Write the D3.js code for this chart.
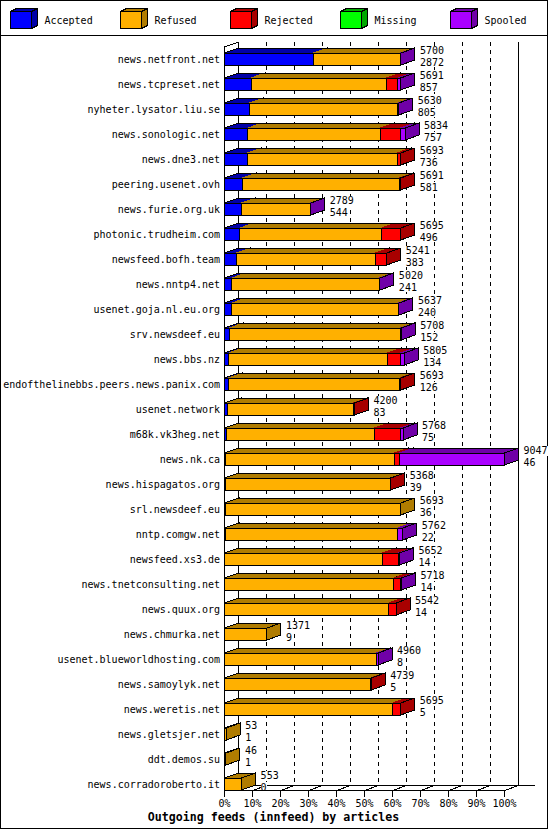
<!DOCTYPE html>
<html>
<head>
<meta charset="utf-8">
<script src="https://cdn.jsdelivr.net/npm/d3@7"></script>
<style>
  body { margin: 0; background: #fff; }
</style>
</head>
<body>
<div id="chart"></div>
<script>
// outgoing innfeed peers, top to bottom
const feeds = [
  "news.netfront.net", "news.tcpreset.net", "nyheter.lysator.liu.se",
  "news.sonologic.net", "news.dne3.net", "peering.usenet.ovh",
  "news.furie.org.uk", "photonic.trudheim.com", "newsfeed.bofh.team",
  "news.nntp4.net", "usenet.goja.nl.eu.org", "srv.newsdeef.eu",
  "news.bbs.nz", "endofthelinebbs.peers.news.panix.com", "usenet.network",
  "m68k.vk3heg.net", "news.nk.ca", "news.hispagatos.org",
  "srl.newsdeef.eu", "nntp.comgw.net", "newsfeed.xs3.de",
  "news.tnetconsulting.net", "news.quux.org", "news.chmurka.net",
  "usenet.blueworldhosting.com", "news.samoylyk.net", "news.weretis.net",
  "news.gletsjer.net", "ddt.demos.su", "news.corradoroberto.it"
];
const offered = [5700, 5691, 5630, 5834, 5693, 5691, 2789, 5695, 5241, 5020,
  5637, 5708, 5805, 5693, 4200, 5768, 9047, 5368, 5693, 5762,
  5652, 5718, 5542, 1371, 4960, 4739, 5695, 53, 46, 553];
const accepted = [2872, 857, 805, 757, 736, 581, 544, 496, 383, 241,
  240, 152, 134, 126, 83, 75, 46, 39, 36, 22,
  14, 14, 14, 9, 8, 5, 5, 1, 1, 0];
const refused = [2808, 4371, 4790, 4277, 4838, 5067, 2235, 4583, 4490, 4754,
  5366, 5536, 5127, 5534, 4079, 4765, 5441, 5319, 5657, 5574,
  5085, 5457, 5295, 1362, 4900, 4720, 5429, 52, 45, 553];
const rejected = [0, 370, 5, 646, 119, 43, 0, 616, 368, 0,
  0, 0, 419, 33, 38, 840, 161, 10, 0, 0,
  517, 209, 233, 0, 2, 14, 261, 0, 0, 0];
const missing = [0, 0, 0, 0, 0, 0, 0, 0, 0, 0,
  0, 0, 0, 0, 0, 0, 0, 0, 0, 0,
  0, 0, 0, 0, 0, 0, 0, 0, 0, 0];
const spooled = [20, 93, 30, 154, 0, 0, 10, 0, 0, 25,
  31, 20, 125, 0, 0, 88, 3399, 0, 0, 166,
  36, 38, 0, 0, 50, 0, 0, 0, 0, 0];

const seriesNames = ["Accepted", "Refused", "Rejected", "Missing", "Spooled"];
const pctTicks = [0, 10, 20, 30, 40, 50, 60, 70, 80, 90, 100];

const series = [accepted, refused, rejected, missing, spooled];
const frontColors = ["#0000ff", "#ffb000", "#ff0000", "#00ff00", "#aa00ff"];
const darkColors = ["#0000a8", "#b07c00", "#a80000", "#00a800", "#7000a8"];

const width = 550;
const height = 830;
const depth = { x: 14, y: 5 };
const mono = "'DejaVu Sans Mono', 'Liberation Mono', monospace";

const svg = d3.select("#chart")
  .append("svg")
  .attr("width", width)
  .attr("height", height)
  .style("display", "block")
  .attr("shape-rendering", "crispEdges");

svg.append("rect")
  .attr("width", width)
  .attr("height", height)
  .attr("fill", "#fff");

// frame + legend strip
svg.append("rect")
  .attr("x", 0.5).attr("y", 0.5)
  .attr("width", 547).attr("height", 828)
  .attr("fill", "none").attr("stroke", "#000");
svg.append("line")
  .attr("x1", 0).attr("x2", 548)
  .attr("y1", 35.5).attr("y2", 35.5)
  .attr("stroke", "#000");

const legend = svg.selectAll(".legend")
  .data(seriesNames)
  .enter()
  .append("g")
  .classed("legend", true)
  .attr("transform", (d, i) => `translate(${10.5 + i * 110}, 11.5)`);

legend.append("polygon")
  .attr("points", "0,0 6,-3 27,-3 21,0")
  .attr("fill", (d, i) => darkColors[i]).attr("stroke", "#000");
legend.append("polygon")
  .attr("points", "21,0 27,-3 27,14 21,17")
  .attr("fill", (d, i) => darkColors[i]).attr("stroke", "#000");
legend.append("rect")
  .attr("width", 21).attr("height", 17)
  .attr("fill", (d, i) => frontColors[i]).attr("stroke", "#000");
legend.append("text")
  .attr("x", 34).attr("y", 12)
  .attr("font-family", mono).attr("font-size", "10px")
  .text(d => d);

// scales
const maxTotal = d3.max(offered);
const x = d3.scaleLinear().domain([0, 100]).range([224.5, 504.5]);
const y = d3.scaleBand()
  .domain(feeds)
  .range([53, 790])
  .paddingInner(0.52)
  .paddingOuter(0);
const pct = v => (v / maxTotal) * 100;

const plotTop = 47;
const plotBottom = 790.5;

// back wall
const wall = svg.append("g");
wall.selectAll(".grid")
  .data(pctTicks)
  .enter()
  .append("line")
  .attr("x1", d => x(d) + depth.x)
  .attr("x2", d => x(d) + depth.x)
  .attr("y1", plotTop - depth.y)
  .attr("y2", plotBottom - depth.y)
  .attr("stroke", "#000")
  .attr("stroke-dasharray", d => (d === 0 || d === 100 ? null : "4,4"));

// floor
wall.append("line")
  .attr("x1", x(0) + depth.x).attr("x2", x(100) + depth.x + 16)
  .attr("y1", plotBottom - depth.y).attr("y2", plotBottom - depth.y)
  .attr("stroke", "#000");
wall.selectAll(".floor")
  .data(pctTicks)
  .enter()
  .append("line")
  .attr("x1", d => x(d)).attr("y1", plotBottom)
  .attr("x2", d => x(d) + depth.x).attr("y2", plotBottom - depth.y)
  .attr("stroke", "#000");
wall.append("line")
  .attr("x1", x(0)).attr("x2", x(0))
  .attr("y1", plotTop).attr("y2", plotBottom)
  .attr("stroke", "#000");
wall.append("line")
  .attr("x1", x(0)).attr("y1", plotTop)
  .attr("x2", x(0) + depth.x).attr("y2", plotTop - depth.y)
  .attr("stroke", "#000");

// bars
const bars = svg.append("g");
feeds.forEach((name, i) => {
  const top = y(name);
  const h = y.bandwidth();
  const g = bars.append("g");
  let acc = 0;
  series.forEach((values, s) => {
    const v = values[i];
    if (!v) return;
    const x0 = x(pct(acc));
    const x1 = x(pct(acc + v));
    acc += v;
    g.append("polygon")
      .attr("points", [[x0, top], [x0 + depth.x, top - depth.y],
        [x1 + depth.x, top - depth.y], [x1, top]].join(" "))
      .attr("fill", darkColors[s]).attr("stroke", darkColors[s]);
    g.append("polygon")
      .attr("points", [[x1, top], [x1 + depth.x, top - depth.y],
        [x1 + depth.x, top + h - depth.y], [x1, top + h]].join(" "))
      .attr("fill", darkColors[s]).attr("stroke", "#000");
    g.append("rect")
      .attr("x", x0).attr("y", top)
      .attr("width", x1 - x0).attr("height", h)
      .attr("fill", frontColors[s]).attr("stroke", "#000");
  });
  const xEnd = x(pct(acc));
  g.append("polyline")
    .attr("points", [[x(0), top], [x(0) + depth.x, top - depth.y],
      [xEnd + depth.x, top - depth.y]].join(" "))
    .attr("fill", "none").attr("stroke", "#000");

  // total over accepted, on a white patch like the gd text
  const lx = xEnd + depth.x + 5;
  [[offered[i], top + 1], [accepted[i], top + 12.5]].forEach(([val, base]) => {
    const s = String(val);
    g.append("rect")
      .attr("x", lx).attr("y", base - 8.5)
      .attr("width", s.length * 6).attr("height", 10)
      .attr("fill", "#fff");
    g.append("text")
      .attr("x", lx).attr("y", base)
      .attr("font-family", mono).attr("font-size", "10px")
      .text(s);
  });
});

// row labels
svg.append("g")
  .selectAll("text")
  .data(feeds)
  .enter()
  .append("text")
  .attr("x", 220)
  .attr("y", d => y(d) + y.bandwidth() / 2)
  .attr("dy", "0.35em")
  .attr("text-anchor", "end")
  .attr("font-family", mono).attr("font-size", "10px")
  .text(d => d);

// percent axis
const axis = d3.axisBottom(x)
  .tickValues(pctTicks)
  .tickFormat(d => d + "%")
  .tickSize(6)
  .tickSizeOuter(0)
  .offset(0);

svg.append("g")
  .attr("transform", `translate(0, ${plotBottom})`)
  .call(axis)
  .call(g => g.selectAll("text")
    .attr("font-family", mono).attr("font-size", "10px").attr("fill", "#000"));

svg.append("text")
  .attr("x", 273.5).attr("y", 821)
  .attr("text-anchor", "middle")
  .attr("font-family", mono).attr("font-size", "11.6px").attr("font-weight", "bold")
  .text("Outgoing feeds (innfeed) by articles");
</script>
</body>
</html>
